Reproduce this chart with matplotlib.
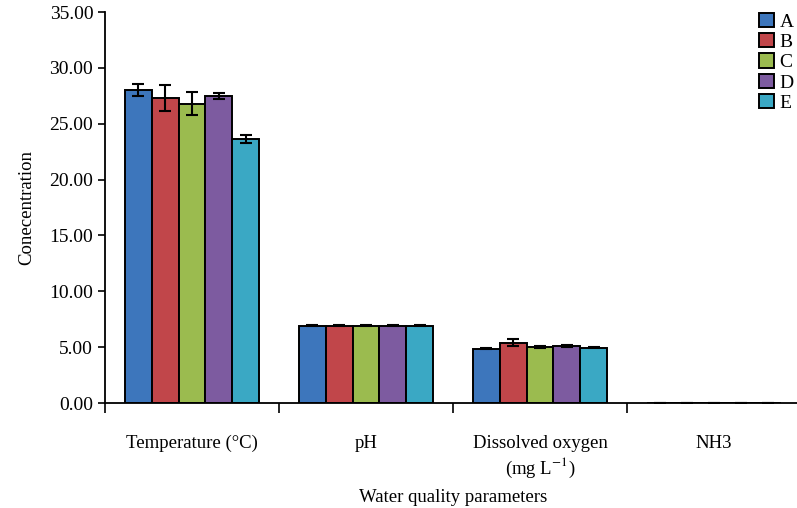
import matplotlib.pyplot as plt
import numpy as np

plt.rcParams['font.family'] = ['Liberation Serif', 'DejaVu Serif']
plt.rcParams['mathtext.fontset'] = 'stix'

categories = ['Temperature (°C)', 'pH', 'Dissolved oxygen\n(mg L$^{-1}$)', 'NH3']
series = ['A', 'B', 'C', 'D', 'E']
colors = ['#3d76bc', '#c1464a', '#9bbb4f', '#7d5ba0', '#3aa8c4']

values = {
    'A': [28.0, 6.92, 4.86, 0.03],
    'B': [27.3, 6.92, 5.40, 0.03],
    'C': [26.8, 6.92, 5.01, 0.03],
    'D': [27.5, 6.92, 5.07, 0.03],
    'E': [23.6, 6.92, 4.95, 0.03],
}
errors = {
    'A': [0.55, 0.05, 0.06, 0.0],
    'B': [1.20, 0.05, 0.32, 0.0],
    'C': [1.00, 0.05, 0.10, 0.0],
    'D': [0.28, 0.05, 0.08, 0.0],
    'E': [0.35, 0.05, 0.05, 0.0],
}

fig = plt.figure(figsize=(7.97, 5.08), dpi=100)
ax = fig.add_axes([105/797, 105/508, 696/797, 391/508])

x = np.arange(len(categories))
width = 0.154
for i, s in enumerate(series):
    ax.bar(x + (i - 2) * width, values[s], width, color=colors[i], edgecolor='black',
           linewidth=1.4, label=s, yerr=errors[s], capsize=4.3,
           error_kw=dict(elinewidth=1.5, capthick=1.5, ecolor='black'))

ax.set_xlim(-0.5, 3.5)
ax.set_ylim(0, 35)
ax.set_yticks(np.arange(0, 36, 5))
ax.set_yticklabels([f'{v:.2f}' for v in np.arange(0, 36, 5)])
ax.set_xticks([-0.5, 0.5, 1.5, 2.5])
ax.set_xticklabels([])
ax.set_xticks(x, minor=True)
ax.set_xticklabels(categories, minor=True)
ax.tick_params(axis='x', which='minor', length=0, pad=23, labelsize=13.5)
ax.tick_params(axis='x', which='major', length=7, width=1.2, direction='out')
ax.tick_params(axis='y', length=5, width=1.2, direction='out', labelsize=14)

for side in ['top', 'right']:
    ax.spines[side].set_visible(False)
for side in ['left', 'bottom']:
    ax.spines[side].set_linewidth(1.3)

ax.set_ylabel('Conecentration', fontsize=13.5, labelpad=10)
ax.set_xlabel('Water quality parameters', fontsize=13.5, labelpad=7)

fig.legend(loc='upper left', bbox_to_anchor=(759/797, 1 - 13/508), frameon=False,
           fontsize=14, handlelength=0.75, handleheight=0.75, handletextpad=0.3,
           labelspacing=0.12, borderaxespad=0, borderpad=0)

fig.savefig('out.png', dpi=100)
